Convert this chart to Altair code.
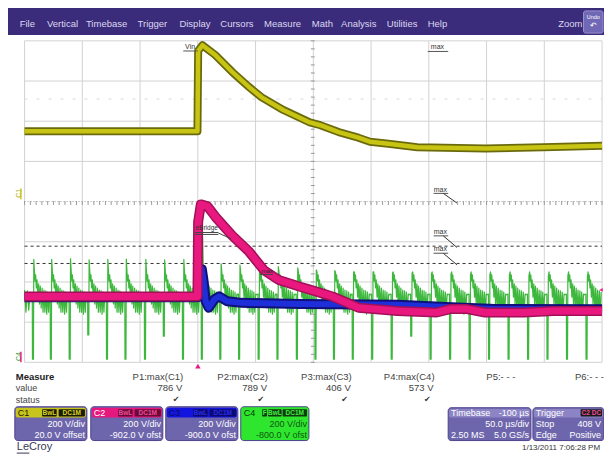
import altair as alt
import pandas as pd
import numpy as np

# ---------------- data (time in microseconds, level in screen divisions) ----------------
time_grid_us = [-150, -100, -50, 0, 50, 100, 150, 200, 250, 300, 350]
div_grid = [-4, -3, -2, -1, 1, 2, 3, 4]
max_marker_div = [-1.11, -1.54]

c1_t = [-150, -0.3, 0.3, 4, 15, 30, 44, 55, 74, 97, 106, 122, 139, 149, 165, 190, 249, 299, 325, 350]
c1_d = [1.75, 1.75, 3.75, 3.89, 3.65, 3.22, 2.86, 2.60, 2.28, 1.97, 1.90, 1.73, 1.59, 1.49, 1.44, 1.35, 1.32, 1.35, 1.37, 1.39]

c2_t = [-150, -0.3, 0.3, 2.6, 8.5, 15.3, 29.6, 43.9, 57.4, 70, 88.6, 97, 116.4, 139.2, 172.9, 206.7, 219.3, 232.0, 248.8, 282.5, 307.8, 350]
c2_d = [-2.36, -2.36, -0.5, -0.07, -0.12, -0.38, -0.84, -1.23, -1.71, -1.95, -2.12, -2.19, -2.36, -2.64, -2.72, -2.76, -2.67, -2.67, -2.76, -2.76, -2.72, -2.72]

c3_t = [-150, -0.3, 1.8, 3.5, 5.1, 6.8, 9.4, 14.4, 18.6, 25.4, 38, 88.6, 172.9, 215.1, 257.3, 350]
c3_d = [-2.38, -2.38, -2.12, -1.68, -2.0, -2.48, -2.64, -2.43, -2.36, -2.48, -2.52, -2.55, -2.57, -2.62, -2.67, -2.68]

c4_spike_t = [-143.3, -127.8, -111.5, -95.4, -79.2, -63.2, -46.3, -30.0, -13.4, 2.9,
              18.9, 35.2, 52.1, 68.4, 85.2, 101.3, 117.3, 133.6, 150.4, 167.3,
              184.2, 201.0, 217.9, 234.8, 251.6, 268.5, 285.4, 302.2, 319.1, 336.0]
c4_peak_d = [-1.44, -1.44, -1.42, -1.45, -1.44, -1.43, -1.44, -1.45, -1.44, -0.87,
             -1.55, -1.58, -1.60, -1.62, -1.65, -1.70, -1.72, -1.75, -1.75, -1.78,
             -1.78, -1.80, -1.80, -1.82, -1.82, -1.83, -1.85, -1.85, -1.85, -1.87]
c4_low_d = [-3.92, -3.92, -3.92, -3.32, -3.92, -3.92, -3.92, -3.35, -3.92, -3.92,
            -3.92, -3.92, -3.92, -3.92, -3.92, -3.92, -3.92, -3.92, -3.92, -3.92,
            -3.35, -3.92, -3.92, -3.92, -3.92, -3.92, -3.92, -3.92, -3.92, -3.92]
c4_ring_dt = [1.9, 2.4, 2.9, 3.5, 4.1, 4.8, 5.5, 6.2, 6.9, 7.7, 8.5, 9.3, 10.1, 10.9, 11.7, 12.5, 13.3, 14.1, 14.9, 15.6]
c4_ring_d = [-1.75, -1.98, -1.82, -2.15, -1.95, -2.38, -2.05, -2.55, -2.10, -2.65, -2.15, -2.75, -2.20, -2.75, -2.22, -2.80, -2.25, -2.75, -2.30, -2.32]
c4_lead_t = [-150, -148.8, -147.6, -146.4, -145.2]
c4_lead_d = [-2.2, -2.75, -2.22, -2.70, -2.30]

# ---------------- layout helpers ----------------
W, H = 596, 448
KX, KY = W / 612, H / 464
FONT = "Liberation Sans"
dummy = pd.DataFrame({"k": [0]})
layers = []


def X(v):
    return round(v * KX, 2)


def Y(v):
    return round(v * KY, 2)


def rect(x1, y1, x2, y2, fill, stroke=None, sw=1, cr=0):
    kw = dict(fill=fill, cornerRadius=cr)
    if stroke:
        kw.update(stroke=stroke, strokeWidth=sw)
    else:
        kw.update(strokeWidth=0)
    layers.append(alt.Chart(dummy).mark_rect(**kw).encode(
        x=alt.value(X(x1)), x2=alt.value(X(x2)), y=alt.value(Y(y1)), y2=alt.value(Y(y2))))


def line(x1, y1, x2, y2, color, sw=1, dash=None):
    kw = dict(color=color, strokeWidth=sw)
    if dash:
        kw["strokeDash"] = dash
    layers.append(alt.Chart(dummy).mark_rule(**kw).encode(
        x=alt.value(X(x1)), y=alt.value(Y(y1)), x2=alt.value(X(x2)), y2=alt.value(Y(y2))))


def text(s, x, y, size=9, color="#333333", align="left", weight="normal", angle=None, font=FONT):
    kw = dict(text=s, fontSize=size, color=color, align=align, fontWeight=weight, font=font, baseline="middle")
    if angle is not None:
        kw["angle"] = angle
    layers.append(alt.Chart(dummy).mark_text(**kw).encode(x=alt.value(X(x)), y=alt.value(Y(y))))


xs = alt.Scale(domain=[-150, 350], range=[X(17), X(610)], nice=False, zero=False)
ys = alt.Scale(domain=[-4, 4], range=[Y(367), Y(34)], nice=False, zero=False)


def trace(df, color, sw):
    return alt.Chart(df).mark_line(color=color, strokeWidth=sw, strokeJoin="round").encode(
        x=alt.X("t:Q", scale=xs, axis=None),
        y=alt.Y("d:Q", scale=ys, axis=None),
        order=alt.Order("i:Q"))


# ---------------- menu bar ----------------
rect(0, 0, 612, 28, "#3b2c7b")
menu_items = ["File", "Vertical", "Timebase", "Trigger", "Display", "Cursors", "Measure", "Math",
              "Analysis", "Utilities", "Help"]
menu_x = [12, 40, 80, 133, 176, 218, 263, 312, 342, 389, 431]
for s, mx in zip(menu_items, menu_x):
    text(s, mx, 17, size=9.5, color="#dcd8f0")
text("Zoom", 565, 17, size=9.5, color="#dcd8f0")
rect(591, 3, 611, 26, "#7068b4", stroke="#9a92d0", cr=2)
text("Undo", 601, 9, size=5.5, color="#ffffff", align="center")
text("↶", 601, 19, size=8, color="#ffffff", align="center")

# ---------------- grid ----------------
grid_v = alt.Chart(pd.DataFrame({"t": time_grid_us})).mark_rule(color="#d2d2d2", strokeWidth=1).encode(
    x=alt.X("t:Q", scale=xs, axis=None), y=alt.value(Y(34)), y2=alt.value(Y(367)))
grid_h = alt.Chart(pd.DataFrame({"d": div_grid})).mark_rule(color="#d2d2d2", strokeWidth=1).encode(
    y=alt.Y("d:Q", scale=ys, axis=None), x=alt.value(X(17)), x2=alt.value(X(610)))
layers += [grid_v, grid_h]

center_h = alt.Chart(pd.DataFrame({"d": [0]})).mark_rule(color="#9a9a9a", strokeWidth=1, strokeDash=[1, 2]).encode(
    y=alt.Y("d:Q", scale=ys, axis=None), x=alt.value(X(17)), x2=alt.value(X(610)))
xticks = alt.Chart(pd.DataFrame({"t": np.arange(-150, 351, 5)})).mark_rule(color="#9a9a9a", strokeWidth=1).encode(
    x=alt.X("t:Q", scale=xs, axis=None), y=alt.value(Y(200)), y2=alt.value(Y(204)))
yticks = alt.Chart(pd.DataFrame({"d": np.round(np.arange(-4, 4.01, 0.2), 2)})).mark_rule(color="#9a9a9a", strokeWidth=1).encode(
    y=alt.Y("d:Q", scale=ys, axis=None), x=alt.value(X(311)), x2=alt.value(X(315)))
faint = alt.Chart(pd.DataFrame({"d": [2.55]})).mark_rule(color="#d8d8d8", strokeWidth=1, strokeDash=[3, 9]).encode(
    y=alt.Y("d:Q", scale=ys, axis=None), x=alt.value(X(17)), x2=alt.value(X(610)))
markers = alt.Chart(pd.DataFrame({"d": max_marker_div})).mark_rule(color="#333333", strokeWidth=1, strokeDash=[3, 3]).encode(
    y=alt.Y("d:Q", scale=ys, axis=None), x=alt.value(X(17)), x2=alt.value(X(610)))
layers += [center_h, xticks, yticks, faint, markers]

# ---------------- traces ----------------
g_t, g_d = list(c4_lead_t), list(c4_lead_d)
for t0, pk, lo in zip(c4_spike_t, c4_peak_d, c4_low_d):
    g_t += [t0, t0 + 0.15, t0 + 1.0, t0 + 1.3]
    g_d += [-2.30, lo, lo, pk]
    for dt, lv in zip(c4_ring_dt, c4_ring_d):
        g_t.append(t0 + dt)
        g_d.append(lv)
green = pd.DataFrame({"t": g_t, "d": g_d})
green = green[green.t <= 350].reset_index(drop=True)
green["i"] = np.arange(len(green))

df1 = pd.DataFrame({"t": c1_t, "d": c1_d, "i": range(len(c1_t))})
df2 = pd.DataFrame({"t": c2_t, "d": c2_d, "i": range(len(c2_t))})
df3 = pd.DataFrame({"t": c3_t, "d": c3_d, "i": range(len(c3_t))})

layers += [
    trace(green, "#3db83d", 1.2),
    trace(df3, "#10107a", 10), trace(df3, "#1e2ed8", 6),
    trace(df2, "#a3105a", 10), trace(df2, "#e8187e", 7),
    trace(df1, "#6a6a0c", 8), trace(df1, "#c8c414", 4.5),
]

# ---------------- annotations on the grid ----------------
text("Vin", 187, 40, size=7, color="#333333", align="center")
line(180, 44.5, 195, 44.5, "#555555")
text("max", 441, 40, size=7, color="#333333", align="center")
line(431, 45, 452, 45, "#555555")
for ly, ey in [(188, 202), (232, 248), (250, 266)]:
    text("max", 444, ly, size=7, color="#333333", align="center")
    line(437, ly + 4, 452, ly + 4, "#555555")
    line(447, ly + 4, 461, ey, "#333333")
text("eBridge", 204, 228, size=6.5, color="#333333", align="center")
line(192, 232.5, 216, 232.5, "#444444")
line(192, 234.5, 216, 234.5, "#444444")
line(216, 233, 229, 239, "#444444")
text("max", 266, 272, size=6, color="#222222", align="center")
line(259, 276, 272, 276, "#444444")

text("C1", 11, 192, size=7, color="#b0ac10", align="center", angle=270)
rect(12.5, 187, 14, 198, "#c8c414")
text("C4", 11, 361, size=7, color="#2ea02e", align="center", angle=270)
rect(12.5, 356, 14, 367, "#e8187e")
layers.append(alt.Chart(dummy).mark_point(shape="triangle-up", filled=True, color="#e8187e", size=30, opacity=1).encode(
    x=alt.value(X(195)), y=alt.value(Y(371))))
layers.append(alt.Chart(dummy).mark_point(shape="triangle-left", filled=True, color="#e8187e", size=14, opacity=1).encode(
    x=alt.value(X(609)), y=alt.value(Y(292))))

# ---------------- measurement table ----------------
text("Measure", 8, 382, size=9.5, color="#222222", weight="bold")
text("value", 8, 394, size=9, color="#444444")
text("status", 8, 406, size=9, color="#444444")
meas_names = ["P1:max(C1)", "P2:max(C2)", "P3:max(C3)", "P4:max(C4)", "P5:- - -", "P6:- - -"]
meas_vals = ["786 V", "789 V", "406 V", "573 V", "", ""]
meas_right = [180, 267, 353, 438, 521, 612]
for nm, vl, rx in zip(meas_names, meas_vals, meas_right):
    text(nm, rx, 382, size=9.5, color="#444444", align="right")
    if vl:
        text(vl, rx - 1, 394, size=9.5, color="#444444", align="right")
        text("✔", rx - 4, 406, size=8, color="#333333", align="right", font="DejaVu Sans")

# ---------------- channel boxes ----------------
BODY = "#6e66ac"
BORDER = "#4c438c"


def chan_box(x1, x2, label, head, label_col, badge_bg, badge_fg, badges, l1, l2, body, body_txt):
    rect(x1, 413, x2, 448, body, stroke=BORDER, cr=3)
    rect(x1 + 1, 414, x2 - 1, 424, head, cr=2)
    text(label, x1 + 3, 419, size=9, color=label_col)
    for bx1, bx2, bs in badges:
        rect(x1 + bx1, 415.5, x1 + bx2, 423, badge_bg, cr=1)
        text(bs, x1 + (bx1 + bx2) / 2, 419.3, size=6.5, color=badge_fg, align="center", weight="bold")
    text(l1, x2 - 2, 431, size=9, color=body_txt, align="right")
    text(l2, x2 - 2, 442.5, size=9, color=body_txt, align="right")


std_badges = [(28, 43, "BwL"), (45, 72, "DC1M")]
chan_box(7, 81, "C1", "#c8c41e", "#222200", "#1a1a08", "#d8d420", std_badges, "200 V/div", "20.0 V offset", BODY, "#ffffff")
chan_box(85, 159, "C2", "#e6177d", "#ffffff", "#6a0a38", "#f04a98", std_badges, "200 V/div", "-902.0 V ofst", BODY, "#ffffff")
chan_box(162, 236, "C3", "#1414e0", "#0a0a60", "#0a0a70", "#2a2ae8", std_badges, "200 V/div", "-900.0 V ofst", BODY, "#ffffff")
chan_box(239, 309, "C4", "#2ee62e", "#0a3a0a", "#103a10", "#40f040",
         [(22, 27, "F"), (28, 42, "BwL"), (43, 68, "DC1M")], "200 V/div", "-800.0 V ofst", "#2ee62e", "#0f5a0f")

# ---------------- timebase / trigger ----------------
rect(452, 414, 537, 448, BODY, stroke=BORDER, cr=3)
rect(453, 415, 536, 424, "#8c84c4", cr=2)
text("Timebase", 455, 419.5, size=9, color="#ffffff")
text("-100 µs", 535, 419.5, size=9, color="#ffffff", align="right")
text("50.0 µs/div", 535, 431, size=9, color="#ffffff", align="right")
text("2.50 MS", 455, 442.5, size=9, color="#ffffff")
text("5.0 GS/s", 535, 442.5, size=9, color="#ffffff", align="right")

rect(539, 414, 612, 448, BODY, stroke=BORDER, cr=3)
rect(540, 415, 611, 424, "#8c84c4", cr=2)
text("Trigger", 542, 419.5, size=9, color="#ffffff")
rect(588, 415.5, 610, 423, "#1a1a1a", cr=1)
text("C2 DC", 599, 419.3, size=6.5, color="#f04a98", align="center", weight="bold")
text("Stop", 542, 431, size=9, color="#ffffff")
text("408 V", 609, 431, size=9, color="#ffffff", align="right")
text("Edge", 542, 442.5, size=9, color="#ffffff")
text("Positive", 609, 442.5, size=9, color="#ffffff", align="right")

text("1/13/2011 7:06:28 PM", 608, 456, size=8, color="#333333", align="right")
text("LeCroy", 9, 455, size=11, color="#3a3a58")
line(9, 461, 22, 461, "#3a3a58")

chart = alt.layer(*layers).properties(
    width=W, height=H, padding=0,
    autosize=alt.AutoSizeParams(type="fit", contains="padding"),
    background="white",
).configure_view(stroke=None)

chart.save("out.html", embed_options={"renderer": "svg", "actions": False})
